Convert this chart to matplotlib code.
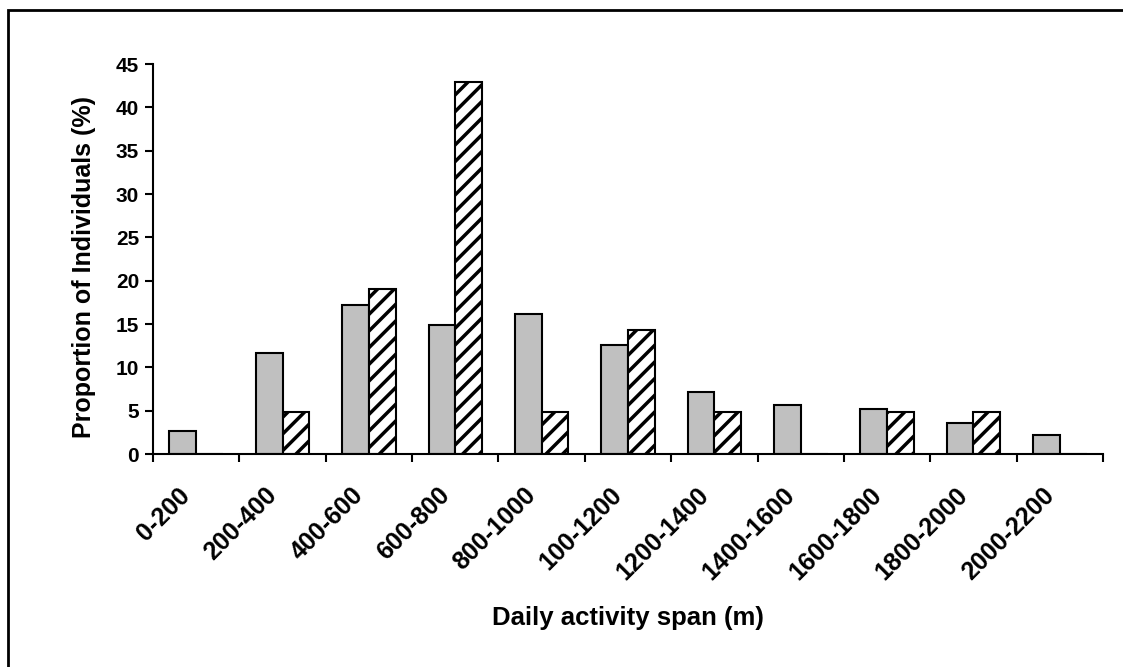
import matplotlib.pyplot as plt
from matplotlib.patches import Rectangle
from matplotlib.transforms import ScaledTranslation
import numpy as np

categorias = ['0-200', '200-400', '400-600', '600-800', '800-1000', '100-1200',
              '1200-1400', '1400-1600', '1600-1800', '1800-2000', '2000-2200']
cinza = [2.7, 11.7, 17.2, 14.9, 16.1, 12.6, 7.1, 5.7, 5.2, 3.6, 2.2]
listrado = [0, 4.8, 19.0, 42.9, 4.8, 14.3, 4.8, 0, 4.8, 4.8, 0]

plt.rcParams['font.family'] = ['Liberation Sans', 'DejaVu Sans']
plt.rcParams['font.weight'] = 'bold'
plt.rcParams['axes.labelweight'] = 'bold'
plt.rcParams['hatch.linewidth'] = 2.5

fig = plt.figure(figsize=(11.23, 6.67), dpi=100)
ax = fig.add_axes([153 / 1123, 1 - 454 / 667, 950 / 1123, 390 / 667])

x = np.arange(len(categorias))
largura = 0.31
ax.bar(x - largura / 2, cinza, largura, color='#c0c0c0', edgecolor='black', linewidth=1.5)
ax.bar(x + largura / 2, listrado, largura, color='white', edgecolor='black',
       linewidth=1.5, hatch='//')

ax.set_xlim(-0.5, len(categorias) - 0.5)
ax.set_ylim(0, 45)
ax.set_yticks(range(0, 46, 5))
ax.tick_params(axis='y', direction='out', length=6, width=1.5, labelsize=15, pad=4)

# ticks nas divisas das categorias, rotulos no centro
ax.set_xticks(np.arange(-0.5, len(categorias), 1))
ax.set_xticklabels([])
ax.tick_params(axis='x', which='major', direction='out', length=6, width=1.5)
ax.set_xticks(x, minor=True)
ax.set_xticklabels(categorias, minor=True, rotation=45, ha='right',
                   rotation_mode='anchor', fontsize=18)
ax.tick_params(axis='x', which='minor', length=0, pad=21)
desloc = ScaledTranslation(-18 / 100, 0, fig.dpi_scale_trans)
for rot in ax.get_xticklabels(minor=True):
    rot.set_transform(rot.get_transform() + desloc)

for s in ['top', 'right']:
    ax.spines[s].set_visible(False)
for s in ['left', 'bottom']:
    ax.spines[s].set_linewidth(1.5)

ax.set_ylabel('Proportion of Individuals (%)', fontsize=18)
ax.yaxis.set_label_coords(-0.060, 0.48)
ax.set_xlabel('Daily activity span (m)', fontsize=18.5)
ax.xaxis.set_label_coords(0.5, -0.39)

# moldura da figura
fig.patches.append(Rectangle((8 / 1123, -0.1), 1.2, 1 - 10 / 667 + 0.1,
                             transform=fig.transFigure, fill=False,
                             edgecolor='black', linewidth=2))

fig.savefig('out.png', dpi=100)
